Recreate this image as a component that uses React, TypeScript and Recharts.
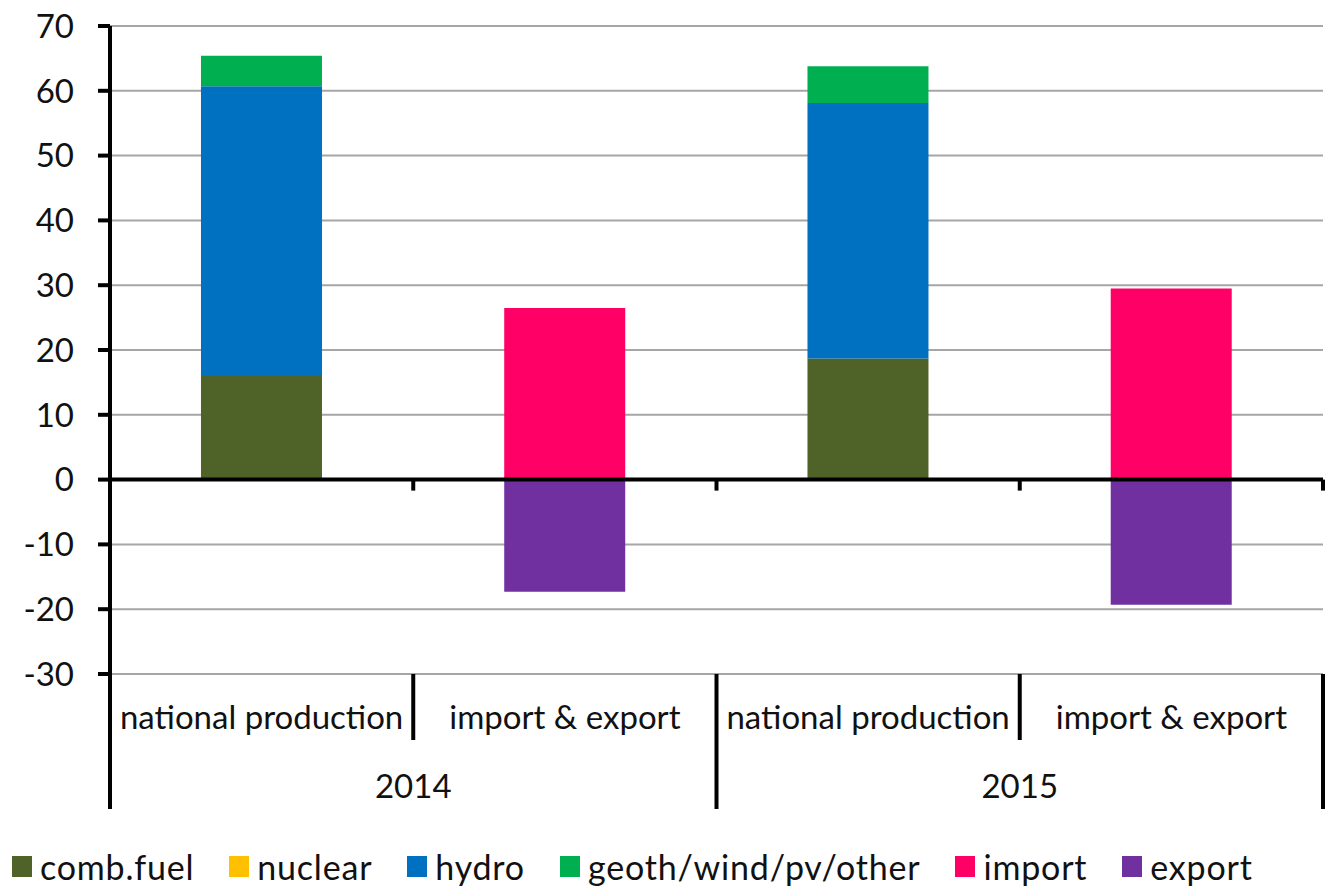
import React from 'react';
import { BarChart, Bar, XAxis, YAxis, CartesianGrid, ReferenceLine, Legend } from 'recharts';

// categories and years (two-level axis)
const categories = ['national production', 'import & export', 'national production', 'import & export'];
const years = ['2014', '2014', '2015', '2015'];

// series values (TWh-ish)
const combFuel = [16.0, 0, 18.7, 0];
const nuclear = [0, 0, 0, 0];
const hydro = [44.7, 0, 39.4, 0];
const geoth = [4.7, 0, 5.7, 0];
const imports = [0, 26.5, 0, 29.5];
const exports = [0, -17.3, 0, -19.3];

const yTicks = [-30, -20, -10, 0, 10, 20, 30, 40, 50, 60, 70];

const series = [
    { key: 'comb', name: 'comb.fuel', color: '#4F6228', values: combFuel },
    { key: 'nuclear', name: 'nuclear', color: '#FFC000', values: nuclear },
    { key: 'hydro', name: 'hydro', color: '#0070C0', values: hydro },
    { key: 'geoth', name: 'geoth/wind/pv/other', color: '#00B050', values: geoth },
    { key: 'import', name: 'import', color: '#FF0066', values: imports },
    { key: 'export', name: 'export', color: '#7030A0', values: exports },
];

const data = categories.map((cat, i) => {
    const row: any = { id: i, cat, year: years[i] };
    series.forEach(s => { row[s.key] = s.values[i]; });
    return row;
});

const W = 1335;
const H = 886;
const TOP = 26;
const PLOT_BOTTOM = 674;
const FONT = 'Lato, "Open Sans", sans-serif';
const FS = 33;
const TEXT = '#111';
const ZERO_Y = TOP + (70 / 100) * (PLOT_BOTTOM - TOP);

function CategoryTick(props: any) {
    const { x, payload } = props;
    const i = payload.index ?? payload.value;
    const half = payload.offset || 151.5;
    const right = x + half;
    const left = x - half;
    const odd = i % 2 === 1;
    return (
        <g>
            <text x={x} y={729} textAnchor="middle" fontSize={FS} fill={TEXT} fontFamily={FONT}>
                {categories[i]}
            </text>
            {i === 0 && <line x1={left} x2={left} y1={PLOT_BOTTOM} y2={809} stroke="#000" strokeWidth={4} />}
            <line x1={right} x2={right} y1={PLOT_BOTTOM} y2={odd ? 809 : 740} stroke="#000" strokeWidth={4} />
            <line x1={right} x2={right} y1={ZERO_Y} y2={ZERO_Y + 11} stroke="#000" strokeWidth={4} />
            {odd && (
                <text x={left} y={798} textAnchor="middle" fontSize={FS} fill={TEXT} fontFamily={FONT}>
                    {years[i]}
                </text>
            )}
        </g>
    );
}

function LegendContent() {
    return (
        <div style={{ height: 77, paddingTop: 38, boxSizing: 'border-box', display: 'flex', paddingLeft: 12, fontFamily: FONT, fontSize: 34, letterSpacing: 0.8, color: TEXT }}>
            {series.map(s => (
                <div key={s.key} style={{ display: 'flex', alignItems: 'center', marginRight: 35, lineHeight: '30px' }}>
                    <span style={{ display: 'inline-block', width: 20, height: 21, background: s.color, marginRight: 8 }} />
                    <span>{s.name}</span>
                </div>
            ))}
        </div>
    );
}

export default function App() {
    return (
        <div style={{ position: 'absolute', left: 0, top: 0, width: W, height: H, background: '#fff' }}>
            <BarChart
                width={W}
                height={H}
                data={data}
                stackOffset="sign"
                barCategoryGap="30%"
                margin={{ top: TOP, right: 12, left: 0, bottom: 0 }}
            >
                <CartesianGrid vertical={false} stroke="#a6a6a6" strokeWidth={2} />
                <XAxis
                    dataKey="id"
                    type="category"
                    height={135}
                    axisLine={false}
                    tickLine={false}
                    interval={0}
                    tick={<CategoryTick />}
                />
                <YAxis
                    width={110}
                    domain={[-30, 70]}
                    ticks={yTicks}
                    interval={0}
                    axisLine={{ stroke: '#000', strokeWidth: 4 }}
                    tickLine={{ stroke: '#000', strokeWidth: 4 }}
                    tickSize={12}
                    tickMargin={24}
                    tick={{ fill: TEXT, fontSize: FS, fontFamily: FONT }}
                />
                {series.map(s => (
                    <Bar
                        key={s.key}
                        dataKey={s.key}
                        name={s.name}
                        stackId="a"
                        fill={s.color}
                        isAnimationActive={false}
                    />
                ))}
                <ReferenceLine y={0} stroke="#000" strokeWidth={4} />
                <Legend verticalAlign="bottom" align="left" content={<LegendContent />} />
            </BarChart>
        </div>
    );
}
